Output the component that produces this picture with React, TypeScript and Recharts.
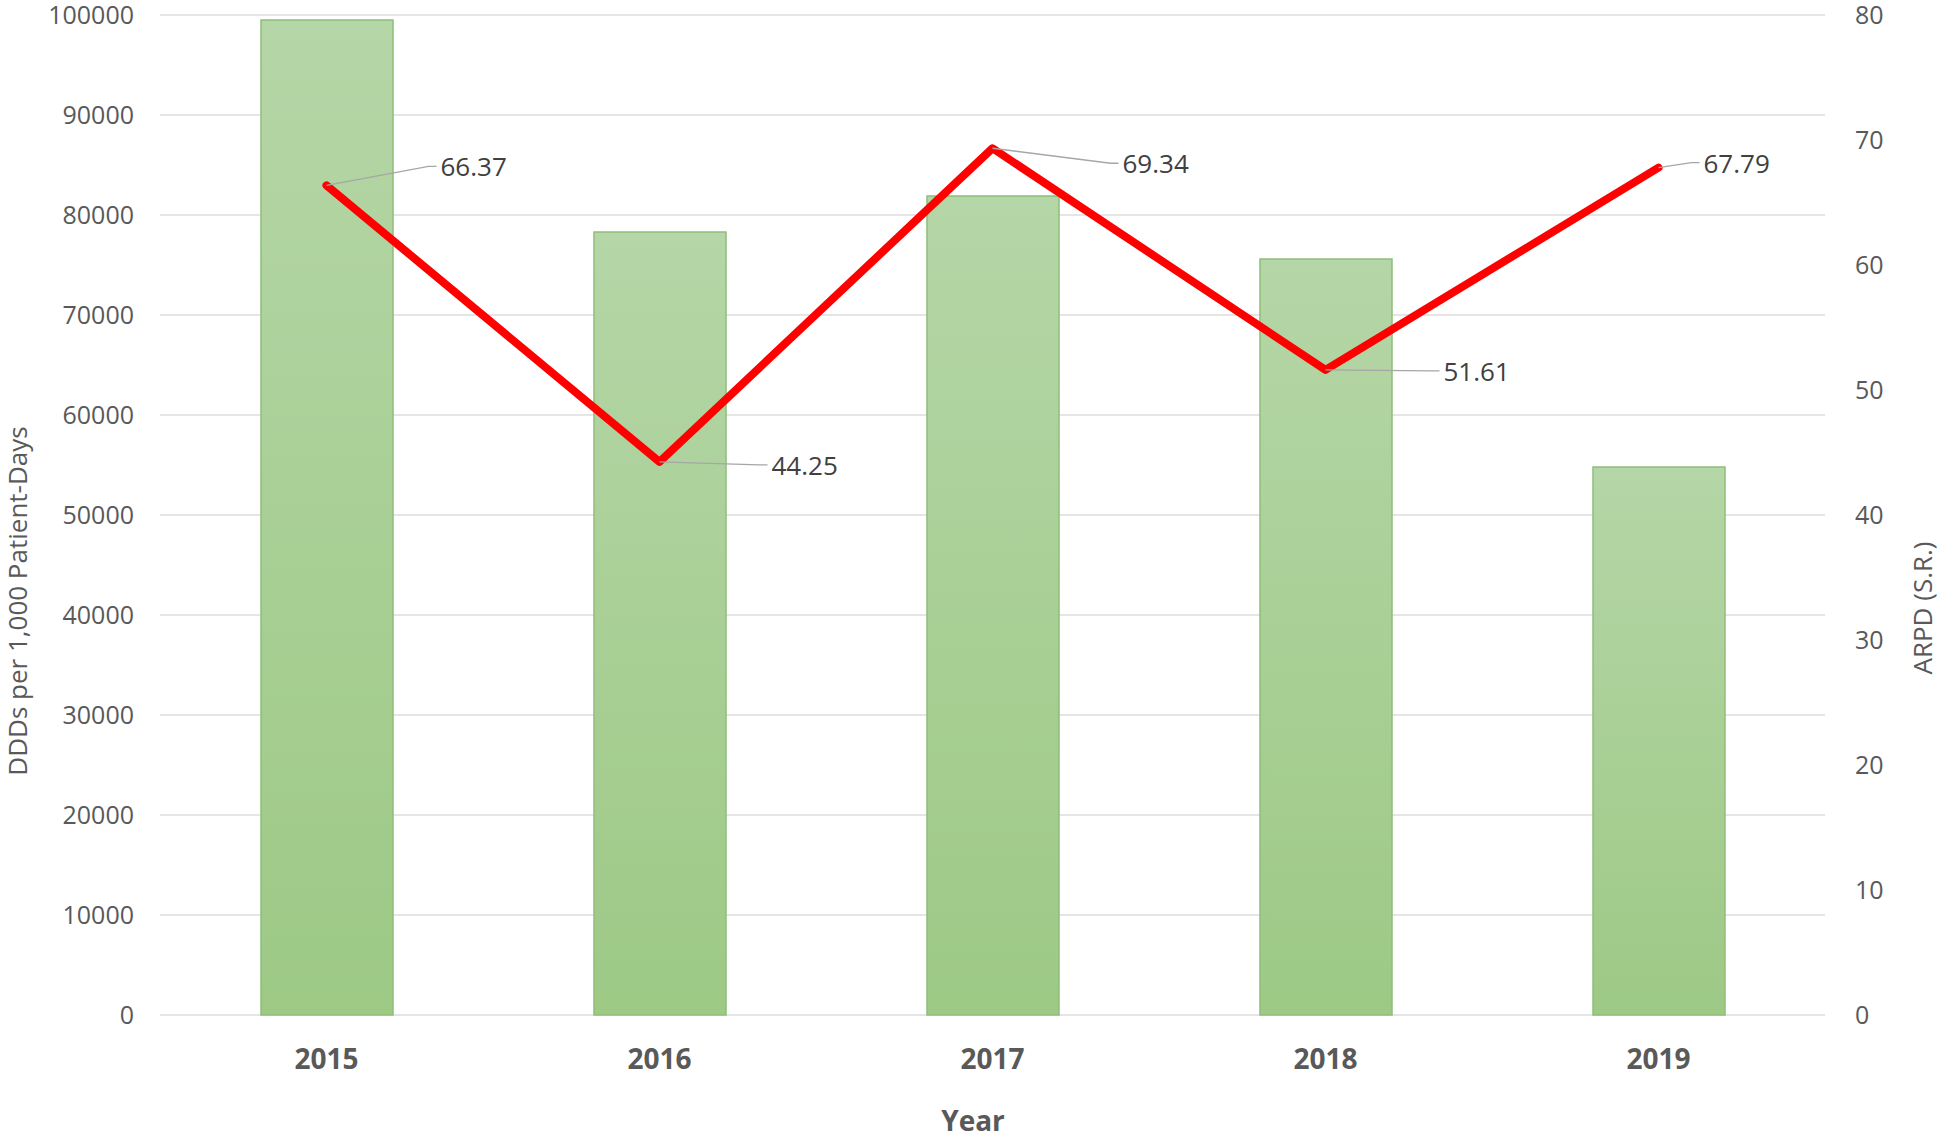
import { Bar, CartesianGrid, ComposedChart, Line, XAxis, YAxis } from "recharts";

const years = ["2015", "2016", "2017", "2018", "2019"];
const ddds = [99500, 78300, 81900, 75600, 54800];
const arpd = [66.37, 44.25, 69.34, 51.61, 67.79];
const leftTicks = [0, 10000, 20000, 30000, 40000, 50000, 60000, 70000, 80000, 90000, 100000];
const rightTicks = [0, 10, 20, 30, 40, 50, 60, 70, 80];

// where Excel dropped each data label, relative to its point
const labelOffsets = [
  { dx: 114, dy: -19 },
  { dx: 112, dy: 3 },
  { dx: 130, dy: 15 },
  { dx: 118, dy: 1 },
  { dx: 45, dy: -5 },
];

const data = years.map((year, i) => ({ year, ddds: ddds[i], arpd: arpd[i] }));

const FONT = "'Open Sans', 'Liberation Sans', sans-serif";
const TEXT = "#595959";

function LeaderLabel(props: any) {
  const { x, y, value, index } = props;
  const off = labelOffsets[index] ?? { dx: 40, dy: 0 };
  const tx = x + off.dx;
  const ty = y + off.dy;
  return (
    <g>
      <polyline
        points={`${x},${y} ${tx - 12},${ty} ${tx - 4},${ty}`}
        fill="none"
        stroke="#a6a6a6"
        strokeWidth={1.3}
      />
      <text x={tx} y={ty} dominantBaseline="central" fill="#404040" fontSize={26} fontFamily={FONT}>
        {value.toFixed(2)}
      </text>
    </g>
  );
}

function VerticalTitle({ cx, cy, text }: { cx: number; cy: number; text: string }) {
  return (
    <text
      x={cx}
      y={cy}
      transform={`rotate(-90 ${cx} ${cy})`}
      textAnchor="middle"
      dominantBaseline="central"
      fill={TEXT}
      fontSize={26}
      fontFamily={FONT}
    >
      {text}
    </text>
  );
}

function YearTitle() {
  return (
    <text x={973} y={1131} textAnchor="middle" fill={TEXT} fontSize={28} fontWeight={700} fontFamily={FONT}>
      Year
    </text>
  );
}

export default function App() {
  return (
    <div style={{ position: "absolute", left: 0, top: 0, background: "#fff" }}>
      <ComposedChart
        width={1946}
        height={1140}
        data={data}
        margin={{ top: 15, right: 0, left: 0, bottom: 0 }}
      >
        <defs>
          <linearGradient id="barFill" x1="0" y1="0" x2="0" y2="1">
            <stop offset="0%" stopColor="#b5d6a7" />
            <stop offset="100%" stopColor="#9dc985" />
          </linearGradient>
        </defs>
        <CartesianGrid yAxisId="left" vertical={false} stroke="#dcdcdc" strokeWidth={1.5} />
        <XAxis
          dataKey="year"
          height={125}
          axisLine={false}
          tickLine={false}
          tickSize={0}
          tickMargin={34}
          tick={{ fill: TEXT, fontSize: 28, fontWeight: 700, fontFamily: FONT }}
          label={<YearTitle />}
        />
        <YAxis
          yAxisId="left"
          width={160}
          domain={[0, 100000]}
          ticks={leftTicks}
          interval={0}
          axisLine={false}
          tickLine={false}
          tickSize={0}
          tickMargin={26}
          tick={{ fill: TEXT, fontSize: 25, fontFamily: FONT }}
          label={<VerticalTitle cx={17} cy={601} text="DDDs per 1,000 Patient-Days" />}
        />
        <YAxis
          yAxisId="right"
          orientation="right"
          width={121}
          domain={[0, 80]}
          ticks={rightTicks}
          interval={0}
          axisLine={false}
          tickLine={false}
          tickSize={0}
          tickMargin={30}
          tick={{ fill: TEXT, fontSize: 25, fontFamily: FONT, textAnchor: "start" }}
          label={<VerticalTitle cx={1922} cy={608} text="ARPD (S.R.)" />}
        />
        <Bar
          yAxisId="left"
          dataKey="ddds"
          fill="url(#barFill)"
          stroke="#8fbf78"
          strokeWidth={1.5}
          barSize={132}
          isAnimationActive={false}
        />
        <Line
          yAxisId="right"
          dataKey="arpd"
          stroke="#ff0000"
          strokeWidth={8}
          strokeLinejoin="round"
          strokeLinecap="round"
          dot={false}
          activeDot={false}
          label={<LeaderLabel />}
          isAnimationActive={false}
        />
      </ComposedChart>
    </div>
  );
}
